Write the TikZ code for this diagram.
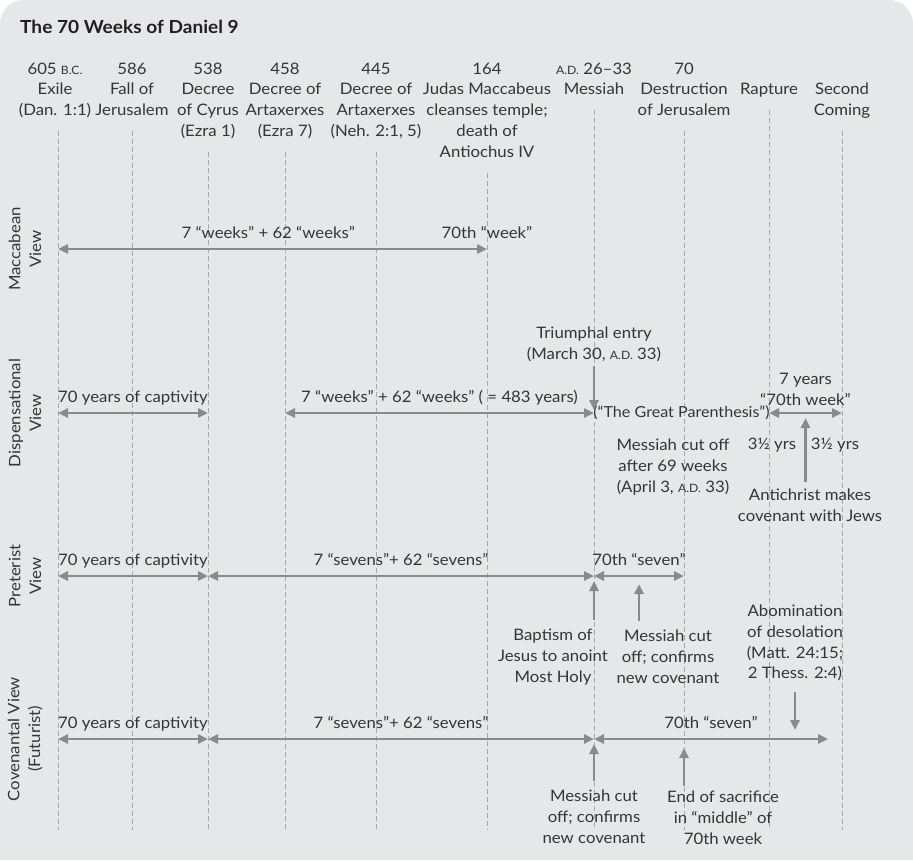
\documentclass[tikz,border=0pt]{standalone}
\usepackage{fontspec}
\setmainfont[FakeStretch=1.06]{Lato}
\usetikzlibrary{arrows.meta,positioning}

\definecolor{bggray}{HTML}{E6E7E8}
\definecolor{txtgray}{HTML}{353535}
\definecolor{titlecol}{HTML}{231F20}
\definecolor{arrgray}{HTML}{8A8A8C}
\definecolor{dashgray}{HTML}{A8A8AA}
\newcommand{\sctext}[1]{{\fontsize{11.5}{11.5}\selectfont #1}}

\begin{document}
\begin{tikzpicture}[x=1pt, y=-1pt, >={Triangle[length=10pt,width=9pt]},
  every node/.style={font=\fontsize{15.8}{20.8}\selectfont, text=txtgray, inner sep=0pt},
  head/.style={anchor=north, align=center},
  note/.style={align=center},
  rowlab/.style={rotate=90, align=center},
  lab/.style={anchor=base, yshift=11pt},
  guide/.style={draw=dashgray, line width=0.8pt, dash pattern=on 5pt off 3pt},
  span/.style={<->, draw=arrgray, line width=2.8pt},
  pointer/.style={->, draw=arrgray, line width=2.8pt}]

  % Panel
  \fill[bggray, rounded corners=24pt] (0,0) rectangle (913,860);
  \fill[bggray] (0,400) rectangle (913,860);
  \useasboundingbox (0,0) rectangle (913,860);

  \node[anchor=base west, font=\fontsize{18}{20}\selectfont\bfseries, text=titlecol]
    (title) at (20,33) {The 70 Weeks of Daniel 9};

  % Rows
  \coordinate (mac) at (0,249);
  \coordinate (dis) at (0,413);
  \coordinate (pre) at (0,576);
  \coordinate (cov) at (0,739);
  \coordinate (bot) at (0,830);
  \coordinate (covend) at (828,0);

  % Dates and guide lines
  \foreach \i/\x/\dx/\txt in {1/58/-3/{605 \sctext{B.C.}\\Exile\\(Dan. 1:1)},
      2/132/0/{586\\Fall of\\Jerusalem},
      3/208/0/{538\\Decree\\of Cyrus\\(Ezra 1)},
      4/285/0/{458\\Decree of\\Artaxerxes\\(Ezra 7)},
      5/376/0/{445\\Decree of\\Artaxerxes\\(Neh. 2:1, 5)},
      6/487/0/{164\\Judas Maccabeus\\cleanses temple;\\death of\\Antiochus IV},
      7/594/0/{\sctext{A.D.} 26–33\\Messiah},
      8/684/0/{70\\Destruction\\of Jerusalem},
      9/769/0/{\mbox{}\\Rapture},
      10/842/0/{\mbox{}\\Second\\Coming}} {
    \coordinate (c\i) at (\x,0);
    \node[head] (h\i) at (\x+\dx,59.4) {\strut\txt\strut};
    \draw[guide] ([yshift=-9pt]c\i |- h\i.south) -- (c\i |- bot);
  }

  % View labels
  \foreach \r/\txt in {mac/{Maccabean\\View}, dis/{Dispensational\\View},
      pre/{Preterist\\View}, cov/{Covenantal View\\(Futurist)}}
    \node[rowlab] (l\r) at ([xshift=25pt]\r) {\txt};

  % Maccabean
  \draw[span] (c1 |- mac) -- node[lab, pos=0.49] (m1) {7 “weeks” + 62 “weeks”}
    node[lab, pos=1] (m2) {70th “week”} (c6 |- mac);

  % Dispensational
  \draw[span] (c1 |- dis) -- node[lab] (d1) {70 years of captivity} (c3 |- dis);
  \draw[span] (c4 |- dis) -- node[lab] (d2) {7 “weeks” + 62 “weeks” ( = 483 years)} (c7 |- dis);
  \node[font=\fontsize{15.2}{20.8}\selectfont] (paren) at (681.5,413) {(“The Great Parenthesis”)};
  \node[note] (d3) at (805.5,389) {7 years\\“70th week”};
  \draw[span] (c9 |- dis) -- (c10 |- dis);
  \node[note] (trium) at (594,344) {Triumphal entry\\(March 30, \sctext{A.D.} 33)};
  \draw[pointer, shorten <=4pt, shorten >=3pt] (c7 |- trium.south) -- (c7 |- dis);
  \node[note] (cut69) at (673,467) {Messiah cut off\\after 69 weeks\\(April 3, \sctext{A.D.} 33)};
  \node (half1) at (772,445) {3½ yrs};
  \node (half2) at (835,445) {3½ yrs};
  \node[note] (antic) at (810,505) {Antichrist makes\\covenant with Jews};
  \draw[pointer, shorten <=7pt, shorten >=5pt] (d3 |- antic.north) -- (d3 |- dis);

  % Preterist
  \draw[span] (c1 |- pre) -- node[lab] (p1) {70 years of captivity} (c3 |- pre);
  \draw[span] (c3 |- pre) -- node[lab] (p2) {7 “sevens”+ 62 “sevens”} (c7 |- pre);
  \draw[span] (c7 |- pre) -- node[lab] (p3) {70th “seven”} (c8 |- pre);
  \node[note] (bapt) at (553,657) {Baptism of\\Jesus to anoint\\Most Holy};
  \node[note] (cutp) at (668,657) {Messiah cut\\off; confirms\\new covenant};
  \draw[pointer, shorten <=9pt, shorten >=5pt] (c7 |- bapt.north) -- (c7 |- pre);
  \draw[pointer, shorten <=9pt, shorten >=8pt] (p3 |- cutp.north) -- (p3 |- pre);
  \node[note] (abom) at (795,643) {Abomination\\of desolation\\(Matt. 24:15;\\2 Thess. 2:4)};
  \draw[pointer, shorten <=11pt, shorten >=9pt] (abom.south) -- (abom |- cov);

  % Covenantal
  \draw[span] (c1 |- cov) -- node[lab] (f1) {70 years of captivity} (c3 |- cov);
  \draw[span] (c3 |- cov) -- node[lab] (f2) {7 “sevens”+ 62 “sevens”} (c7 |- cov);
  \draw[span] (c7 |- cov) -- node[lab] (f3) {70th “seven”} (covend |- cov);
  \node[note] (cutf) at (594,817) {Messiah cut\\off; confirms\\new covenant};
  \node[note] (endsac) at (723,818) {End of sacrifice\\in “middle” of\\70th week};
  \draw[pointer, shorten <=9pt, shorten >=5pt] (cutf.north) -- (c7 |- cov);
  \draw[pointer, shorten <=5pt, shorten >=9pt] (c8 |- endsac.north) -- (c8 |- cov);
\end{tikzpicture}
\end{document}
